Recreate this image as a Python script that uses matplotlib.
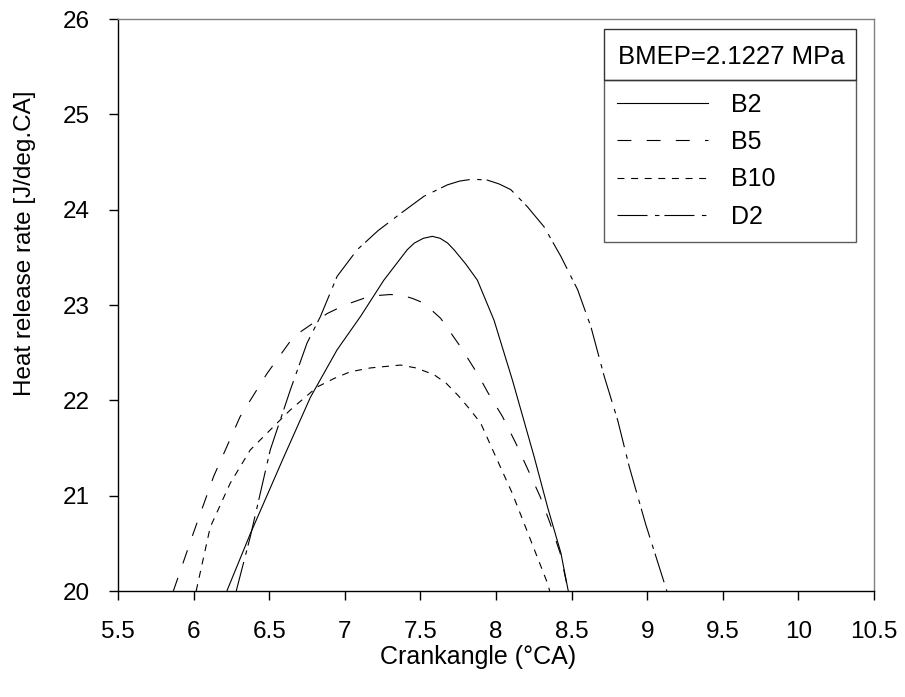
import matplotlib
matplotlib.use("Agg")
import matplotlib.pyplot as plt
from matplotlib.patches import Rectangle

plt.rcParams['font.family'] = ['Liberation Sans', 'DejaVu Sans']
plt.rcParams['lines.scale_dashes'] = False

# lectures sur la figure
b2_x = [6.22, 6.375, 6.595, 6.772, 6.949, 7.104, 7.258, 7.413, 7.46, 7.52, 7.579, 7.63, 7.68,
        7.722, 7.80, 7.877, 7.987, 8.109, 8.252, 8.341, 8.429, 8.478]
b2_y = [20.0, 20.6, 21.40, 22.03, 22.53, 22.88, 23.26, 23.58, 23.65, 23.70, 23.72, 23.70, 23.65,
        23.58, 23.43, 23.26, 22.84, 22.21, 21.41, 20.88, 20.40, 20.0]

b5_x = [5.866, 5.999, 6.132, 6.308, 6.485, 6.662, 6.883, 7.0, 7.126, 7.22, 7.302, 7.38, 7.446,
        7.523, 7.634, 7.766, 7.877, 7.954, 8.043, 8.131, 8.212, 8.292, 8.358, 8.424, 8.478]
b5_y = [20.0, 20.61, 21.20, 21.83, 22.28, 22.67, 22.91, 23.0, 23.07, 23.10, 23.11, 23.10, 23.07,
        23.02, 22.86, 22.56, 22.28, 22.06, 21.83, 21.55, 21.27, 20.99, 20.71, 20.40, 20.0]

b10_x = [6.017, 6.110, 6.242, 6.375, 6.507, 6.640, 6.817, 6.93, 7.037, 7.17, 7.302, 7.369,
         7.47, 7.589, 7.67, 7.75, 7.83, 7.899, 7.998, 8.109, 8.230, 8.341, 8.355]
b10_y = [20.0, 20.67, 21.13, 21.48, 21.69, 21.90, 22.14, 22.23, 22.30, 22.34, 22.36, 22.37,
         22.34, 22.27, 22.18, 22.05, 21.90, 21.76, 21.41, 21.02, 20.53, 20.08, 20.0]

d2_x = [6.282, 6.375, 6.507, 6.640, 6.750, 6.839, 6.949, 7.082, 7.22, 7.369, 7.523, 7.678,
        7.76, 7.844, 7.943, 8.02, 8.098, 8.208, 8.318, 8.429, 8.540, 8.628, 8.716, 8.805,
        8.882, 8.99, 9.13]
d2_y = [20.0, 20.57, 21.48, 22.11, 22.60, 22.88, 23.30, 23.58, 23.78, 23.96, 24.14, 24.26,
        24.30, 24.32, 24.31, 24.27, 24.21, 24.03, 23.82, 23.51, 23.16, 22.77, 22.25, 21.79,
        21.30, 20.7, 20.0]

xticks = [5.5, 6, 6.5, 7, 7.5, 8, 8.5, 9, 9.5, 10, 10.5]
xtick_labels = ['5.5', '6', '6.5', '7', '7.5', '8', '8.5', '9', '9.5', '10', '10.5']
yticks = [20, 21, 22, 23, 24, 25, 26]

fig = plt.figure(figsize=(9.05, 6.97), dpi=100)
ax = fig.add_axes([118/905, 1 - 591/697, (874 - 118)/905, (591 - 19)/697])

lw = 0.8
ax.plot(b2_x, b2_y, color='black', lw=lw, linestyle='-', label='B2')
ax.plot(b5_x, b5_y, color='black', lw=lw, linestyle=(0, (10, 11)), label='B5')
ax.plot(b10_x, b10_y, color='black', lw=lw, linestyle=(0, (5, 4.8)), label='B10')
ax.plot(d2_x, d2_y, color='black', lw=lw, linestyle=(0, (21.6, 5.4, 3.2, 3.6)), label='D2')

ax.set_xlim(5.5, 10.5)
ax.set_ylim(20, 26)
ax.set_xticks(xticks)
ax.set_xticklabels(xtick_labels)
ax.set_yticks(yticks)
ax.tick_params(direction='out', length=6.5, width=1, labelsize=17.5)
ax.tick_params(axis='x', pad=15)
ax.tick_params(axis='y', pad=13.5)

for s in ['left', 'bottom']:
    ax.spines[s].set_color('black')
    ax.spines[s].set_linewidth(1.0)
for s in ['top', 'right']:
    ax.spines[s].set_color('#808080')
    ax.spines[s].set_linewidth(1.0)

ax.set_xlabel("Crankangle (°CA)", fontsize=18)
ax.set_ylabel("Heat release rate [J/deg.CA]", fontsize=17.5)
ax.xaxis.set_label_coords(0.476, -0.095)
ax.yaxis.set_label_coords(-0.108, 0.608)

# legende + cadre du titre
leg = ax.legend(loc='upper left', bbox_to_anchor=(604/905, 1 - 80/697 - 0.2, 252/905, 0.2),
                bbox_transform=fig.transFigure, mode='expand', borderaxespad=0,
                fontsize=18, frameon=True, fancybox=False, edgecolor='#333333',
                handlelength=3.64, handletextpad=0.92, labelspacing=0.54, borderpad=0.5)
leg.get_frame().set_linewidth(1.0)

fig.add_artist(Rectangle((604/905, 1 - 80/697), 252/905, 51/697, transform=fig.transFigure,
                         fill=False, edgecolor='#333333', lw=1.0))
fig.text(731/905, 1 - 57/697, "BMEP=2.1227 MPa", ha='center', va='center', fontsize=18.5)

fig.savefig("out.png", dpi=100)
